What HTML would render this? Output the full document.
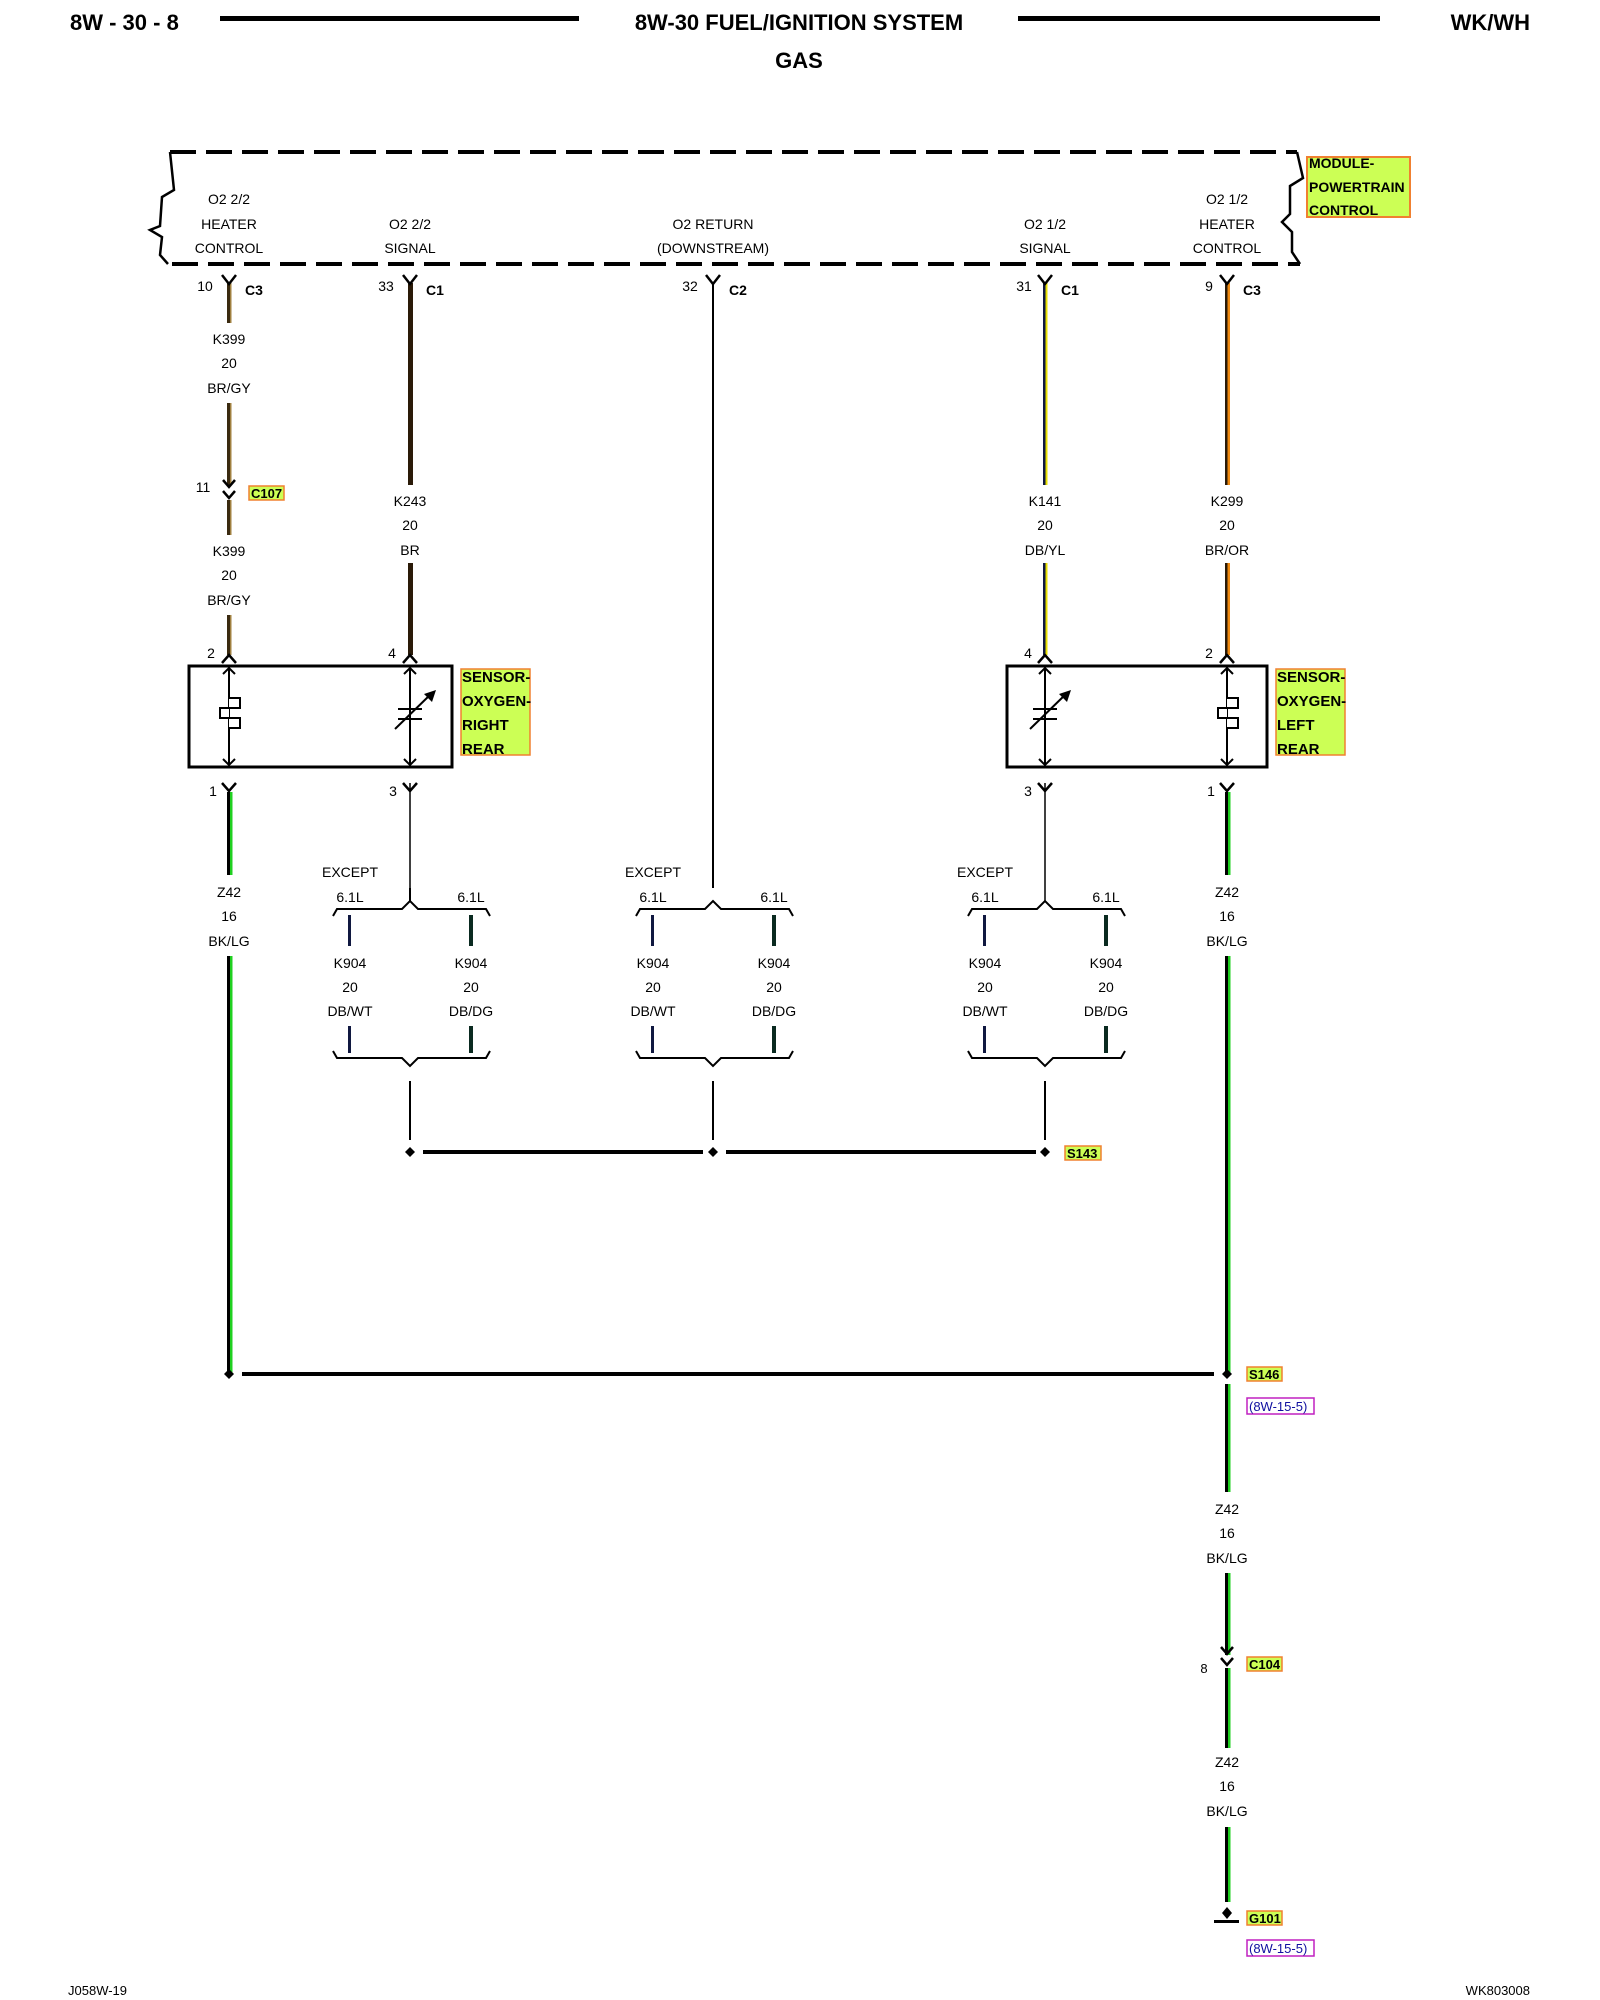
<!DOCTYPE html>
<html><head><meta charset="utf-8"><style>
html,body{margin:0;padding:0;background:#fff;}
svg{display:block;font-family:"Liberation Sans",sans-serif;}
.t{font-size:14px;text-anchor:middle;fill:#000;}
.b{font-weight:bold;}
</style></head><body>
<svg width="1600" height="2000" viewBox="0 0 1600 2000" xmlns="http://www.w3.org/2000/svg">
<!-- header -->
<text x="70" y="30" font-size="22" font-weight="bold">8W - 30 - 8</text>
<rect x="220" y="16" width="359" height="5"/>
<text x="799" y="30" font-size="22" font-weight="bold" text-anchor="middle">8W-30 FUEL/IGNITION SYSTEM</text>
<text x="799" y="68" font-size="22" font-weight="bold" text-anchor="middle">GAS</text>
<rect x="1018" y="16" width="362" height="5"/>
<text x="1530" y="30" font-size="22" font-weight="bold" text-anchor="end">WK/WH</text>

<!-- module dashed box -->
<g stroke="#000" stroke-width="4" fill="none">
<line x1="170" y1="152" x2="1297" y2="152" stroke-dasharray="26,10"/>
<line x1="172" y1="264" x2="1300" y2="264" stroke-dasharray="26,10"/>
<polyline points="170,152 174,190 162,197 160,226 150,230 162,237 160,255 168,264" stroke-width="2.5"/>
<polyline points="1297,152 1303,178 1290,186 1290,214 1282,222 1292,232 1292,252 1300,264" stroke-width="2.5"/>
</g>
<rect x="1307" y="157" width="103" height="60" fill="#ccff55" stroke="#f08030" stroke-width="2"/>
<text x="1309" y="168" font-size="14" font-weight="bold">MODULE-</text>
<text x="1309" y="192" font-size="14" font-weight="bold">POWERTRAIN</text>
<text x="1309" y="215" font-size="14" font-weight="bold">CONTROL</text>

<g class="t">
<text x="229" y="204">O2 2/2</text><text x="229" y="229">HEATER</text><text x="229" y="253">CONTROL</text>
<text x="410" y="229">O2 2/2</text><text x="410" y="253">SIGNAL</text>
<text x="713" y="229">O2 RETURN</text><text x="713" y="253">(DOWNSTREAM)</text>
<text x="1045" y="229">O2 1/2</text><text x="1045" y="253">SIGNAL</text>
<text x="1227" y="204">O2 1/2</text><text x="1227" y="229">HEATER</text><text x="1227" y="253">CONTROL</text>
</g>

<!-- wires top -->
<!-- K399 BR/GY -->
<g>
<rect x="227" y="283" width="4" height="40" fill="#3a2a10"/><rect x="230" y="283" width="1.5" height="40" fill="#a08040"/>
<rect x="227" y="403" width="4" height="83" fill="#3a2a10"/><rect x="230" y="403" width="1.5" height="83" fill="#a08040"/>
<rect x="227" y="500" width="4" height="35" fill="#3a2a10"/><rect x="230" y="500" width="1.5" height="35" fill="#a08040"/>
<rect x="227" y="615" width="4" height="40" fill="#3a2a10"/><rect x="230" y="615" width="1.5" height="40" fill="#a08040"/>
<!-- K243 BR -->
<rect x="408" y="283" width="5" height="202" fill="#2a1a08"/>
<rect x="408" y="563" width="5" height="92" fill="#2a1a08"/>
<!-- return -->
<rect x="712" y="283" width="2" height="605" fill="#000"/>
<!-- K141 DB/YL -->
<rect x="1043" y="283" width="2.5" height="202" fill="#101840"/><rect x="1045.5" y="283" width="2" height="202" fill="#e8e000"/>
<rect x="1043" y="563" width="2.5" height="92" fill="#101840"/><rect x="1045.5" y="563" width="2" height="92" fill="#e8e000"/>
<!-- K299 BR/OR -->
<rect x="1225" y="283" width="2.5" height="202" fill="#2a1a08"/><rect x="1227.5" y="283" width="2.5" height="202" fill="#f08a10"/>
<rect x="1225" y="563" width="2.5" height="92" fill="#2a1a08"/><rect x="1227.5" y="563" width="2.5" height="92" fill="#f08a10"/>
</g>

<!-- connector Y symbols at top -->
<g stroke="#000" stroke-width="2.5" fill="none">
<path d="M222,275 L229,284 L236,275"/><path d="M403,275 L410,284 L417,275"/><path d="M706,275 L713,284 L720,275"/>
<path d="M1038,275 L1045,284 L1052,275"/><path d="M1220,275 L1227,284 L1234,275"/>
<!-- C107 -->
<path d="M223,480 L229,487 L235,480"/><path d="M223,491 L229,498 L235,491"/>
<!-- pins into sensors -->
<path d="M222,663 L229,655 L236,663"/><path d="M403,663 L410,655 L417,663"/>
<path d="M1038,663 L1045,655 L1052,663"/><path d="M1220,663 L1227,655 L1234,663"/>
<!-- pins bottom of sensors -->
<path d="M222,783 L229,791 L236,783"/><path d="M403,783 L410,791 L417,783"/>
<path d="M1038,783 L1045,791 L1052,783"/><path d="M1220,783 L1227,791 L1234,783"/>
</g>
<g class="t" font-size="13">
<text x="205" y="291">10</text><text x="386" y="291">33</text><text x="690" y="291">32</text><text x="1024" y="291">31</text><text x="1209" y="291">9</text>
<text x="203" y="492">11</text>
<text x="211" y="658">2</text><text x="392" y="658">4</text><text x="1028" y="658">4</text><text x="1209" y="658">2</text>
<text x="213" y="796">1</text><text x="393" y="796">3</text><text x="1028" y="796">3</text><text x="1211" y="796">1</text>
</g>
<g font-size="14" font-weight="bold">
<text x="245" y="295">C3</text><text x="426" y="295">C1</text><text x="729" y="295">C2</text><text x="1061" y="295">C1</text><text x="1243" y="295">C3</text>
</g>
<rect x="249" y="486" width="35" height="14" fill="#ccff55" stroke="#f08030" stroke-width="1.5"/>
<text x="251" y="498" font-size="13" font-weight="bold">C107</text>

<g class="t">
<text x="229" y="344">K399</text><text x="229" y="368">20</text><text x="229" y="393">BR/GY</text>
<text x="229" y="556">K399</text><text x="229" y="580">20</text><text x="229" y="605">BR/GY</text>
<text x="410" y="506">K243</text><text x="410" y="530">20</text><text x="410" y="555">BR</text>
<text x="1045" y="506">K141</text><text x="1045" y="530">20</text><text x="1045" y="555">DB/YL</text>
<text x="1227" y="506">K299</text><text x="1227" y="530">20</text><text x="1227" y="555">BR/OR</text>
</g>

<!-- sensors -->
<g stroke="#000" fill="none">
<rect x="189" y="666" width="263" height="101" stroke-width="3"/>
<rect x="1007" y="666" width="260" height="101" stroke-width="3"/>
<g stroke-width="2">
<line x1="229" y1="668" x2="229" y2="765"/><path d="M223,674 L229,668 L235,674"/><path d="M223,759 L229,765 L235,759"/>
<line x1="410" y1="668" x2="410" y2="765"/><path d="M404,674 L410,668 L416,674"/><path d="M404,759 L410,765 L416,759"/>
<line x1="1045" y1="668" x2="1045" y2="765"/><path d="M1039,674 L1045,668 L1051,674"/><path d="M1039,759 L1045,765 L1051,759"/>
<line x1="1227" y1="668" x2="1227" y2="765"/><path d="M1221,674 L1227,668 L1233,674"/><path d="M1221,759 L1227,765 L1233,759"/>
</g>
</g>
<!-- heater symbols -->
<g stroke="#000" stroke-width="2" fill="#fff">
<path d="M229,698 L240,698 L240,708 L220,708 L220,718 L240,718 L240,728 L229,728"/>
<path d="M1227,698 L1238,698 L1238,708 L1218,708 L1218,718 L1238,718 L1238,728 L1227,728"/>
<!-- variable resistors -->
<line x1="398" y1="709" x2="422" y2="709"/><line x1="398" y1="719" x2="422" y2="719"/>
<line x1="395" y1="729" x2="432" y2="693"/>
<line x1="1033" y1="709" x2="1057" y2="709"/><line x1="1033" y1="719" x2="1057" y2="719"/>
<line x1="1030" y1="729" x2="1067" y2="693"/>
</g>
<path d="M436,690 L424,694 L432,702 Z" fill="#000"/>
<path d="M1071,690 L1059,694 L1067,702 Z" fill="#000"/>

<rect x="461" y="669" width="69" height="86" fill="#ccff55" stroke="#f08030" stroke-width="1.5"/>
<g font-size="15" font-weight="bold">
<text x="462" y="682">SENSOR-</text><text x="462" y="706">OXYGEN-</text><text x="462" y="730">RIGHT</text><text x="462" y="754">REAR</text>
</g>
<rect x="1276" y="669" width="69" height="86" fill="#ccff55" stroke="#f08030" stroke-width="1.5"/>
<g font-size="15" font-weight="bold">
<text x="1277" y="682">SENSOR-</text><text x="1277" y="706">OXYGEN-</text><text x="1277" y="730">LEFT</text><text x="1277" y="754">REAR</text>
</g>

<!-- Z42 wires -->
<g>
<rect x="227" y="792" width="3" height="83" fill="#000"/><rect x="230" y="792" width="2.5" height="83" fill="#20d020"/>
<rect x="227" y="956" width="3" height="417" fill="#000"/><rect x="230" y="956" width="2.5" height="417" fill="#20d020"/>
<rect x="1225" y="792" width="3" height="83" fill="#000"/><rect x="1228" y="792" width="2.5" height="83" fill="#20d020"/>
<rect x="1225" y="956" width="3" height="417" fill="#000"/><rect x="1228" y="956" width="2.5" height="417" fill="#20d020"/>
<rect x="1225" y="1384" width="3" height="108" fill="#000"/><rect x="1228" y="1384" width="2.5" height="108" fill="#20d020"/>
<rect x="1225" y="1573" width="3" height="82" fill="#000"/><rect x="1228" y="1573" width="2.5" height="82" fill="#20d020"/>
<rect x="1225" y="1668" width="3" height="80" fill="#000"/><rect x="1228" y="1668" width="2.5" height="80" fill="#20d020"/>
<rect x="1225" y="1827" width="3" height="75" fill="#000"/><rect x="1228" y="1827" width="2.5" height="75" fill="#20d020"/>
</g>
<g class="t">
<text x="229" y="897">Z42</text><text x="229" y="921">16</text><text x="229" y="946">BK/LG</text>
<text x="1227" y="897">Z42</text><text x="1227" y="921">16</text><text x="1227" y="946">BK/LG</text>
<text x="1227" y="1514">Z42</text><text x="1227" y="1538">16</text><text x="1227" y="1563">BK/LG</text>
<text x="1227" y="1767">Z42</text><text x="1227" y="1791">16</text><text x="1227" y="1816">BK/LG</text>
</g>

<!-- EXCEPT 6.1L groups -->
<g id="grp">
</g>
<g fill="none" stroke="#000" stroke-width="2">
<!-- group 1 center 410 -->
<path d="M333,916 L337,909 L402,909 L410,901 L418,909 L486,909 L490,916"/>
<path d="M333,1051 L337,1058 L402,1058 L410,1066 L418,1058 L486,1058 L490,1051"/>
<line x1="410" y1="1081" x2="410" y2="1140"/>
<path d="M636,916 L640,909 L705,909 L713,901 L721,909 L789,909 L793,916"/>
<path d="M636,1051 L640,1058 L705,1058 L713,1066 L721,1058 L789,1058 L793,1051"/>
<line x1="713" y1="1081" x2="713" y2="1140"/>
<path d="M968,916 L972,909 L1037,909 L1045,901 L1053,909 L1121,909 L1125,916"/>
<path d="M968,1051 L972,1058 L1037,1058 L1045,1066 L1053,1058 L1121,1058 L1125,1051"/>
<line x1="1045" y1="1081" x2="1045" y2="1140"/>
<line x1="410" y1="888" x2="410" y2="901"/>
<line x1="1045" y1="783" x2="1045" y2="901" stroke-width="1.5"/>
<line x1="410" y1="783" x2="410" y2="901" stroke-width="1.5"/>
</g>
<g fill="#101840">
<rect x="348" y="915" width="3" height="31"/><rect x="469" y="915" width="4" height="31" fill="#0a2a20"/>
<rect x="348" y="1026" width="3" height="27"/><rect x="469" y="1026" width="4" height="27" fill="#0a2a20"/>
<rect x="651" y="915" width="3" height="31"/><rect x="772" y="915" width="4" height="31" fill="#0a2a20"/>
<rect x="651" y="1026" width="3" height="27"/><rect x="772" y="1026" width="4" height="27" fill="#0a2a20"/>
<rect x="983" y="915" width="3" height="31"/><rect x="1104" y="915" width="4" height="31" fill="#0a2a20"/>
<rect x="983" y="1026" width="3" height="27"/><rect x="1104" y="1026" width="4" height="27" fill="#0a2a20"/>
</g>
<g class="t">
<text x="350" y="877">EXCEPT</text><text x="350" y="902">6.1L</text><text x="471" y="902">6.1L</text>
<text x="350" y="968">K904</text><text x="350" y="992">20</text><text x="350" y="1016">DB/WT</text>
<text x="471" y="968">K904</text><text x="471" y="992">20</text><text x="471" y="1016">DB/DG</text>
<text x="653" y="877">EXCEPT</text><text x="653" y="902">6.1L</text><text x="774" y="902">6.1L</text>
<text x="653" y="968">K904</text><text x="653" y="992">20</text><text x="653" y="1016">DB/WT</text>
<text x="774" y="968">K904</text><text x="774" y="992">20</text><text x="774" y="1016">DB/DG</text>
<text x="985" y="877">EXCEPT</text><text x="985" y="902">6.1L</text><text x="1106" y="902">6.1L</text>
<text x="985" y="968">K904</text><text x="985" y="992">20</text><text x="985" y="1016">DB/WT</text>
<text x="1106" y="968">K904</text><text x="1106" y="992">20</text><text x="1106" y="1016">DB/DG</text>
</g>

<!-- S143 splice -->
<rect x="423" y="1150" width="280" height="4" fill="#000"/>
<rect x="726" y="1150" width="310" height="4" fill="#000"/>
<g fill="#000">
<path d="M410,1147 L415,1152 L410,1157 L405,1152Z"/><path d="M713,1147 L718,1152 L713,1157 L708,1152Z"/><path d="M1045,1147 L1050,1152 L1045,1157 L1040,1152Z"/>
</g>
<rect x="1065" y="1146" width="36" height="14" fill="#ccff55" stroke="#f08030" stroke-width="1.5"/>
<text x="1067" y="1158" font-size="13" font-weight="bold">S143</text>

<!-- S146 -->
<rect x="242" y="1372" width="972" height="4" fill="#000"/>
<g fill="#000">
<path d="M229,1369 L234,1374 L229,1379 L224,1374Z"/><path d="M1227,1369 L1232,1374 L1227,1379 L1222,1374Z"/>
</g>
<rect x="1247" y="1367" width="35" height="14" fill="#ccff55" stroke="#f08030" stroke-width="1.5"/>
<text x="1249" y="1379" font-size="13" font-weight="bold">S146</text>
<rect x="1247" y="1398" width="67" height="16" fill="#fff" stroke="#c020c0" stroke-width="1.5"/>
<text x="1249" y="1411" font-size="13" fill="#1010a0">(8W-15-5)</text>

<!-- C104 -->
<g stroke="#000" stroke-width="2.5" fill="none">
<path d="M1221,1647 L1227,1654 L1233,1647"/><path d="M1221,1658 L1227,1665 L1233,1658"/>
</g>
<text x="1204" y="1673" font-size="13" text-anchor="middle">8</text>
<rect x="1247" y="1657" width="35" height="14" fill="#ccff55" stroke="#f08030" stroke-width="1.5"/>
<text x="1249" y="1669" font-size="13" font-weight="bold">C104</text>

<!-- G101 -->
<path d="M1227,1907 L1232,1913 L1227,1919 L1222,1913Z" fill="#000"/>
<rect x="1214" y="1920" width="25" height="3" fill="#000"/>
<rect x="1247" y="1911" width="35" height="14" fill="#ccff55" stroke="#f08030" stroke-width="1.5"/>
<text x="1249" y="1923" font-size="13" font-weight="bold">G101</text>
<rect x="1247" y="1940" width="67" height="16" fill="#fff" stroke="#c020c0" stroke-width="1.5"/>
<text x="1249" y="1953" font-size="13" fill="#1010a0">(8W-15-5)</text>

<!-- footer -->
<text x="68" y="1995" font-size="13">J058W-19</text>
<text x="1530" y="1995" font-size="13" text-anchor="end">WK803008</text>
</svg>
</body></html>
